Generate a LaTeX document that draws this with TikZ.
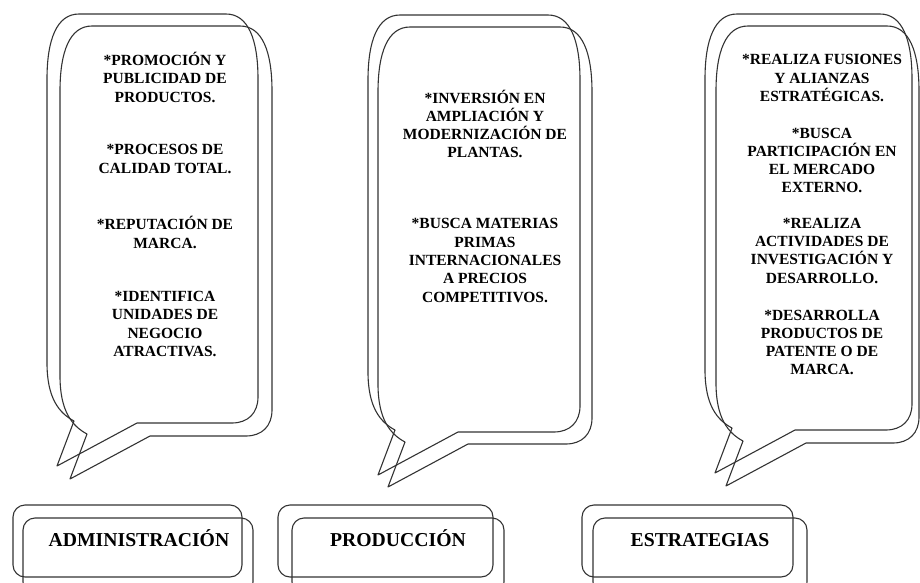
\documentclass[tikz,border=0pt]{standalone}
\usepackage{fontspec}
\setmainfont{Liberation Serif}
\tikzset{
  outline/.style={draw=black!80, line width=1.1pt, line join=round},
  bubtext/.style={inner sep=0pt, align=center, font=\fontsize{15.5}{18.3}\selectfont\bfseries},
  boxtext/.style={inner sep=0pt, anchor=base, font=\fontsize{19.7}{22}\selectfont\bfseries},
  boxframe/.style={outline, rounded corners=12pt}
}
% #1=left #2=right #3=top #4=bottom
\newcommand\calloutshape[4]{%
  \draw[outline] ({#1},{#3+65}) .. controls ({#1},{#3+25}) and ({#1+10},{#3}) .. ({#1+32},{#3})
  -- ({#2-32},{#3}) .. controls ({#2-10},{#3}) and ({#2},{#3+25}) .. ({#2},{#3+65})
  -- ({#2},{#4-26}) .. controls ({#2},{#4-10}) and ({#2-10},{#4}) .. ({#2-26},{#4})
  -- ({#1+90},{#4}) -- ({#1+10},{#4+43}) -- ({#1+27},{#4-2})
  .. controls ({#1+12},{#4-10}) and ({#1},{#4-25}) .. ({#1},{#4-60}) -- cycle;}
\begin{document}
\begin{tikzpicture}[x=1pt, y=-1pt]
\useasboundingbox (0,0) rectangle (920,583);
% callouts (back and front outlines)
\calloutshape{47}{258}{14}{423}
\calloutshape{60}{272}{26}{436}
\calloutshape{368}{580}{15}{432}
\calloutshape{378}{592}{27}{444}
\calloutshape{705}{912}{14}{430}
\calloutshape{716}{919}{26}{443}
% bubble 1 text
\node[bubtext] (a1) at (165,77.3) {*PROMOCIÓN Y\\PUBLICIDAD DE\\PRODUCTOS.};
\node[bubtext] (a2) at (165,159) {*PROCESOS DE\\CALIDAD TOTAL.};
\node[bubtext] (a3) at (165,232.5) {*REPUTACIÓN DE\\MARCA.};
\node[bubtext] (a4) at (165,324) {*IDENTIFICA\\UNIDADES DE\\NEGOCIO\\ATRACTIVAS.};
% bubble 2 text
\node[bubtext] (b1) at (485,124) {*INVERSIÓN EN\\AMPLIACIÓN Y\\MODERNIZACIÓN DE\\PLANTAS.};
\node[bubtext] (b2) at (485,260.5) {*BUSCA MATERIAS\\PRIMAS\\INTERNACIONALES\\A PRECIOS\\COMPETITIVOS.};
% bubble 3 text
\node[bubtext] (c1) at (822,78) {*REALIZA FUSIONES\\Y ALIANZAS\\ESTRATÉGICAS.};
\node[bubtext] (c2) at (822,160.5) {*BUSCA\\PARTICIPACIÓN EN\\EL MERCADO\\EXTERNO.};
\node[bubtext] (c3) at (822,250.7) {*REALIZA\\ACTIVIDADES DE\\INVESTIGACIÓN Y\\DESARROLLO.};
\node[bubtext] (c4) at (822,342.5) {*DESARROLLA\\PRODUCTOS DE\\PATENTE O DE\\MARCA.};
% bottom boxes
\draw[boxframe] (13,505) rectangle (242,577);
\draw[boxframe] (23,518) rectangle (253,594);
\draw[boxframe] (278,505) rectangle (493,577);
\draw[boxframe] (292,518) rectangle (504,594);
\draw[boxframe] (582,505) rectangle (793,577);
\draw[boxframe] (593,518) rectangle (807,594);
\node[boxtext] (adm) at (139,546.5) {ADMINISTRACIÓN};
\node[boxtext] (pro) at (398,546.5) {PRODUCCIÓN};
\node[boxtext] (est) at (700,546.5) {ESTRATEGIAS};
\end{tikzpicture}
\end{document}
